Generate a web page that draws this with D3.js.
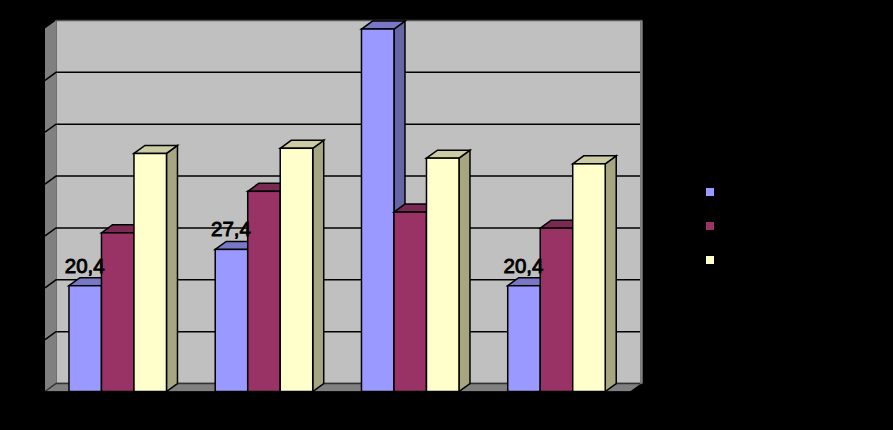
<!DOCTYPE html>
<html>
<head>
<meta charset="utf-8">
<script src="https://d3js.org/d3.v7.min.js"></script>
<style>html,body{margin:0;padding:0;background:#000;overflow:hidden}svg{display:block}</style>
</head>
<body>
<svg id="c" width="893" height="430"></svg>
<script>
const categories = ["A", "B", "C", "D"];
const seriesNames = ["s1", "s2", "s3"];
const series1 = [20.4, 27.4, 69.9, 20.4];
const series2 = [30.6, 38.6, 34.6, 31.5];
const series3 = [45.9, 46.9, 45.0, 43.9];
const labels1 = ["20,4", "27,4", null, "20,4"];
const yTicks = [0, 10, 20, 30, 40, 50, 60, 70];
const frontColors = ["#9999FF", "#993366", "#FFFFCC"];
const topColors = ["#7878C6", "#7A2952", "#CCCCA3"];
const sideColors = ["#6666A6", "#6B2447", "#A6A680"];

const DX = 11, DY = 8;
const svg = d3.select("#c");
const y = d3.scaleLinear().domain([0, 70]).range([391.5, 28.5]);
const x0 = d3.scaleBand().domain(categories).range([44.6, 629.6]).paddingInner(1 / 3).paddingOuter(1 / 6);
const x1 = d3.scaleBand().domain(seriesNames).range([0, x0.bandwidth()]);
const poly = pts => pts.map(p => p.join(",")).join(" ");

const x = 45, x2 = 630, yB = y(0), yT = y(70);
// back wall, left wall, floor
svg.append("polygon").attr("points", poly([[x + DX, yT - DY], [x2 + DX, yT - DY], [x2 + DX, yB - DY], [x + DX, yB - DY]]))
  .attr("fill", "#C0C0C0").attr("stroke", "#555").attr("stroke-width", 1.5);
svg.append("polygon").attr("points", poly([[x, yT], [x + DX, yT - DY], [x + DX, yB - DY], [x, yB]]))
  .attr("fill", "#808080");
svg.append("polygon").attr("points", poly([[x, yB], [x + DX, yB - DY], [x2 + DX, yB - DY], [x2, yB]]))
  .attr("fill", "#808080");
svg.append("line").attr("x1", x2 + DX + 0.5).attr("x2", x2 + DX + 0.5).attr("y1", yT - DY).attr("y2", yB - DY)
  .attr("stroke", "#808080").attr("stroke-width", 2.5);

// gridlines
yTicks.forEach(t => {
  const p = y(t);
  if (t === 70) return;
  svg.append("polyline").attr("points", poly([[x, p], [x + DX, p - DY], [x2 + DX - 1, p - DY]]))
    .attr("fill", "none").attr("stroke", t === 0 ? "#333" : "#000").attr("stroke-width", 1.5);
});

// bars
const allSeries = [series1, series2, series3];
categories.forEach((c, i) => {
  seriesNames.forEach((s, j) => {
    const v = allSeries[j][i];
    const l = x0(c) + x1(s), r = l + x1.bandwidth(), t = y(v), b = y(0);
    const g = svg.append("g").attr("stroke", "#000").attr("stroke-width", 1.5).attr("stroke-linejoin", "miter");
    g.append("polygon").attr("points", poly([[r, t], [r + DX, t - DY], [r + DX, b - DY], [r, b]])).attr("fill", sideColors[j]);
    g.append("polygon").attr("points", poly([[l, t], [l + DX, t - DY], [r + DX, t - DY], [r, t]])).attr("fill", topColors[j]);
    g.append("rect").attr("x", l).attr("y", t).attr("width", r - l).attr("height", b - t).attr("fill", frontColors[j]);
  });
});

// black base below the chart
svg.append("line").attr("x1", 40).attr("x2", 650).attr("y1", yB + 0.5).attr("y2", yB + 0.5).attr("stroke", "#000").attr("stroke-width", 1.5);

// data labels
categories.forEach((c, i) => {
  if (!labels1[i]) return;
  svg.append("text").attr("x", x0(c) + x1(seriesNames[0]) + x1.bandwidth() / 2 - 0.5).attr("y", y(series1[i]) - 13)
    .attr("text-anchor", "middle").attr("font-family", "Liberation Sans").attr("font-size", 20.5)
    .attr("fill", "#000").attr("stroke", "#000").attr("stroke-width", 0.9).text(labels1[i]);
});

// legend keys
const ly = d3.scalePoint().domain(seriesNames).range([192, 260]);
seriesNames.forEach((s, j) => {
  svg.append("rect").attr("x", 706).attr("y", ly(s) - 4).attr("width", 8).attr("height", 8).attr("fill", frontColors[j]);
});
</script>
</body>
</html>
